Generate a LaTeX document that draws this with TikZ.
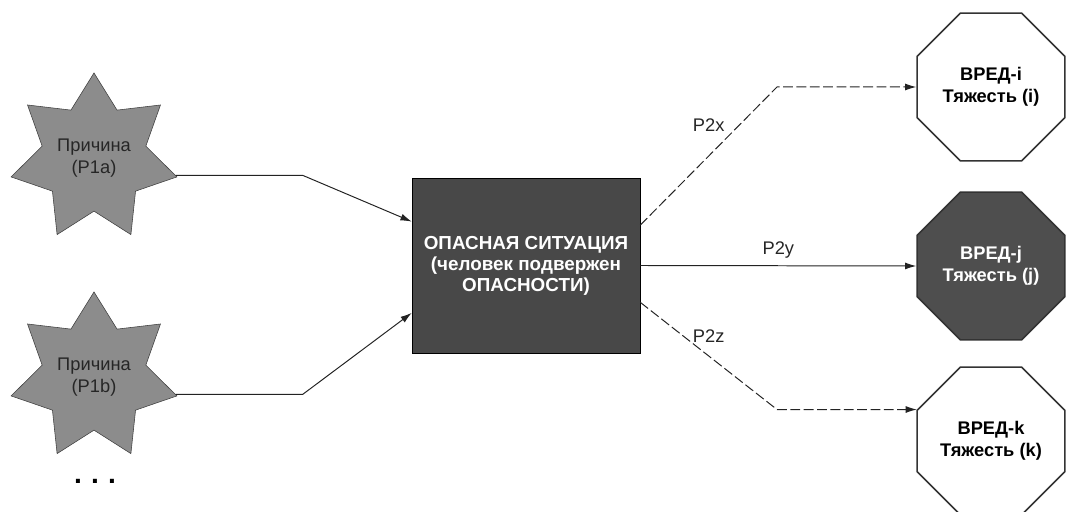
\documentclass[tikz,border=0pt]{standalone}
\usepackage{fontspec}
\setmainfont{Liberation Sans}
\usetikzlibrary{shapes,arrows.meta,positioning,calc}
\definecolor{causegray}{RGB}{140,140,140}
\definecolor{hazarddark}{RGB}{72,72,72}
\definecolor{harmdark}{RGB}{78,78,78}
\definecolor{linegray}{RGB}{35,35,35}

\begin{document}
\begin{tikzpicture}[
 x=0.025cm, y=0.025cm,
 cause/.style={star, star points=7, star point ratio=1.6, draw=black!75, fill=causegray, minimum size=4.25cm, inner sep=0pt, align=center, font=\fontsize{13}{15.5}\selectfont, text=black!85},
 hazard/.style={rectangle, draw=black, fill=hazarddark, minimum width=5.7cm, minimum height=4.375cm, align=center, font=\fontsize{13.4}{15}\selectfont\bfseries, text=white},
 harm/.style={regular polygon, regular polygon sides=8, draw=black!80, line width=1.1pt, fill=white, minimum size=4cm, inner sep=0pt, align=center, font=\fontsize{13}{15.5}\selectfont\bfseries},
 arrow/.style={->, >={Latex[length=8pt,width=5pt]}, line width=0.7pt, color=linegray},
 maybe/.style={arrow, dash pattern=on 7pt off 2.5pt},
 prob/.style={font=\fontsize{13}{15}\selectfont, text=black!85}
]
\useasboundingbox (0,0) rectangle (1067,512);

% Causes
\node[cause] (p1a) at (94,354) {Причина\\(P1a)};
\node[cause] (p1b) at (94,135) {Причина\\(P1b)};
\node[font=\fontsize{20}{20}\selectfont\bfseries] (more) at (95,31) {.\hspace{6.5pt}.\hspace{6.5pt}.};

% Hazardous situation
\node[hazard] (sit) at (526,246.5) {ОПАСНАЯ СИТУАЦИЯ\\(человек подвержен\\ОПАСНОСТИ)};

% Harms
\node[harm] (hi) at (991,425) {ВРЕД-i\\Тяжесть (i)};
\node[harm, fill=harmdark, text=white] (hj) at (991,246) {ВРЕД-j\\Тяжесть (j)};
\node[harm] (hk) at (991,71) {ВРЕД-k\\Тяжесть (k)};

% Arrows in
\draw[arrow] (p1a.-12.857) -- ++(127,0) -- ($(sit.north west)!0.25!(sit.south west)$);
\draw[arrow] (p1b.-12.857) -- ++(127,0) -- ($(sit.north west)!0.77!(sit.south west)$);

% Arrows out
\draw[maybe] ($(sit.north east)!0.27!(sit.south east)$) -- node[prob, midway, yshift=0.78cm] {P2x} (777,0 |- hi.west) -- (hi.west);
\draw[arrow] (sit.east) -- node[prob, midway, yshift=0.4cm] {P2y} (hj.west);
\draw[maybe] ($(sit.north east)!0.71!(sit.south east)$) -- node[prob, midway, yshift=0.5cm] {P2z} (777,0 |- hk.157.5) -- (hk.157.5);

\end{tikzpicture}
\end{document}
